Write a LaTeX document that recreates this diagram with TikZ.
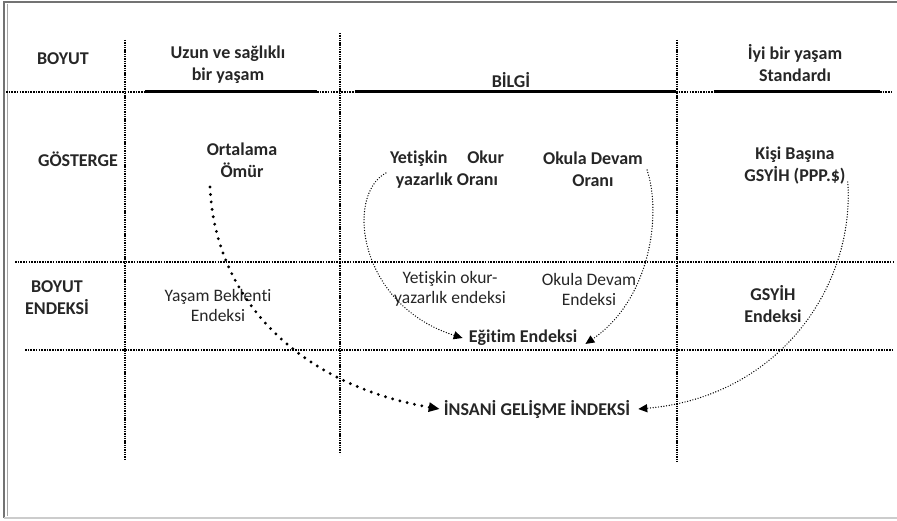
\documentclass[tikz,border=0pt]{standalone}
\usepackage{fontspec}
\setmainfont{Carlito}[Ligatures=NoCommon]
\usetikzlibrary{arrows.meta}
\begin{document}
\begin{tikzpicture}[x=1pt,y=-1pt,
  lbl/.style={font=\bfseries\fontsize{18}{22}\selectfont, align=center, inner sep=0pt, text=black!85},
  lblr/.style={font=\fontsize{17.5}{20}\selectfont, align=center, inner sep=0pt, text=black!85},
  gridv/.style={line width=2pt, dash pattern=on 1.4pt off 0.9pt},
  gridh/.style={line width=2pt, dash pattern=on 1.6pt off 1.1pt},
  solidh/.style={line width=3pt},
  bigdots/.style={line width=3.2pt, line cap=round, dash pattern=on 0pt off 7.5pt, -{Triangle[length=11pt,width=9pt]}},
  smalldots/.style={line width=1.4pt, line cap=round, dash pattern=on 0pt off 2.7pt, -{Triangle[length=9pt,width=8pt]}}
]
\useasboundingbox (0,0) rectangle (897,521);
% frame
\draw[black!55, line width=1.2pt] (897,2) -- (4,2) -- (4,518);
\draw[black!20, line width=1.2pt] (4,518) -- (897,518);
\draw[black!35, line width=0.6pt] (7,4) -- (7,516);
% vertical grid lines
\draw[gridv] (125,40) -- (125,459);
\draw[gridv] (340,33) -- (340,452);
\draw[gridv] (677,40) -- (677,463);
% top row separator
\draw[gridh] (6,92) -- (145,92);
\draw[solidh] (145,92) -- (317,92);
\draw[gridh] (317,92) -- (355,92);
\draw[solidh] (355,92) -- (676,92);
\draw[gridh] (676,92) -- (714,92);
\draw[solidh] (714,92) -- (880,92);
\draw[gridh] (880,92) -- (893,92);
% other horizontals
\draw[gridh] (15,262) -- (893,262);
\draw[gridh] (25,350) -- (893,350);

% texts
\node[lbl] (boyut) at (63,59) {BOYUT};
\node[lbl] (uzun) at (228,65) {Uzun ve sağlıklı\\bir yaşam};
\node[lbl, anchor=base] (bilgi) at (511,88) {BİLGİ};
\node[lbl] (iyi) at (795,63) {İyi bir yaşam\\Standardı};
\node[lbl] (gosterge) at (78,159) {GÖSTERGE};
\node[lbl] (omur) at (242,160) {Ortalama\\Ömür};
\node[lbl] (yet) at (447,170) {Yetişkin\hspace{1.1em}Okur\\yazarlık Oranı};
\node[lbl] (okula) at (593,169) {Okula Devam\\Oranı};
\node[lbl] (kisi) at (795,166) {Kişi Başına\\GSYİH (PPP.\$)};
\node[lbl] (bendeks) at (57,298) {BOYUT\\ENDEKSİ};
\node[lblr] (yasam) at (218,305) {Yaşam Beklenti\\Endeksi};
\node[lblr] (yetend) at (450,289) {Yetişkin okur-\\yazarlık endeksi};
\node[lblr] (okulend) at (589,289) {Okula Devam\\Endeksi};
\node[lbl] (gsyih) at (773,304) {GSYİH\\Endeksi};
\node[lbl] (egitim) at (523,338) {Eğitim Endeksi};
\node[lbl] (hdi) at (537,409) {İNSANİ GELİŞME İNDEKSİ};

% connectors
\coordinate (a1s) at (210,187);
\draw[bigdots] (a1s) .. controls (215,300) and (300,385) .. ([xshift=-4pt]hdi.west);
\draw[smalldots] ([xshift=-4pt,yshift=-3pt]yet.west) .. controls (345,195) and (358,305) .. ([xshift=-6pt]egitim.west);
\draw[smalldots] ([xshift=4pt,yshift=-1pt]okula.east) .. controls (662,215) and (650,300) .. ([xshift=8pt,yshift=-6pt]egitim.east);
\draw[smalldots] ([xshift=2pt,yshift=-16pt]kisi.east) .. controls (855,285) and (780,397) .. ([xshift=8pt]hdi.east);
\end{tikzpicture}
\end{document}
